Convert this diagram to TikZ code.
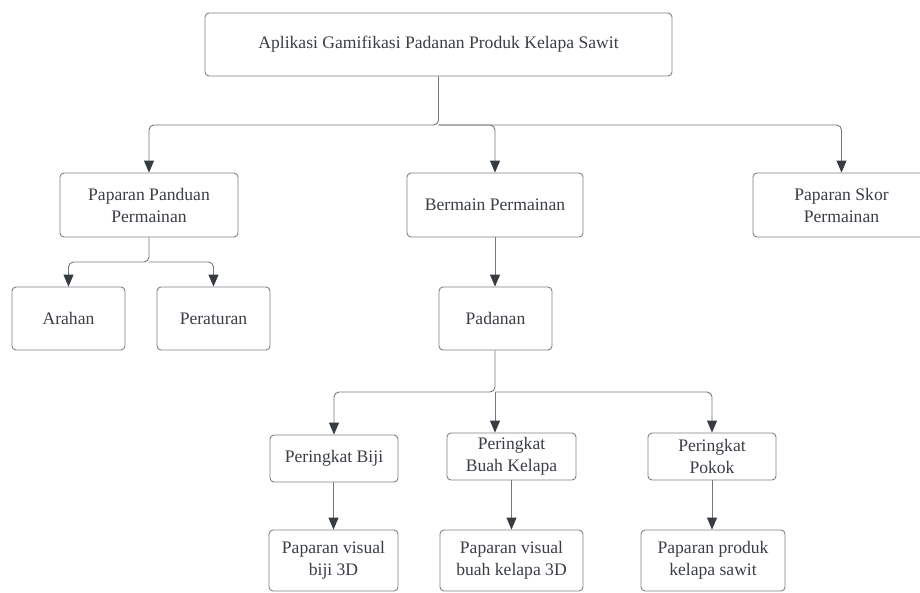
\documentclass[tikz,border=0pt]{standalone}
\usepackage{fontspec}
\setmainfont{Liberation Serif}
\usetikzlibrary{arrows.meta}
\definecolor{boxline}{HTML}{7E8186}
\definecolor{conn}{HTML}{74777C}
\definecolor{tip}{HTML}{373B42}
\definecolor{txt}{HTML}{3A3E45}
\tikzset{
  box/.style={draw=boxline, line width=0.9pt, rounded corners=4pt, inner sep=0pt, align=center,
    text=txt, font=\fontsize{17.6}{22}\selectfont},
  conline/.style={draw=conn, line width=0.9pt, rounded corners=5pt},
  arr/.style={conline, -{Triangle[width=10pt,length=12pt,color=tip]}}
}
\begin{document}
\begin{tikzpicture}[x=1pt,y=-1pt]
\useasboundingbox (0,0) rectangle (920,592);
\clip (0,0) rectangle (920,592);
\fill[white] (0,0) rectangle (920,592);
% boxes
\node[box, minimum width=467pt, minimum height=63pt] (top) at (438.5,44.5) {Aplikasi Gamifikasi Padanan Produk Kelapa Sawit};
\node[box, minimum width=178pt, minimum height=64pt] (panduan) at (149,205) {Paparan Panduan\\Permainan};
\node[box, minimum width=176pt, minimum height=64pt] (bermain) at (495,205) {Bermain Permainan};
\node[box, minimum width=177pt, minimum height=64pt] (skor) at (841.5,205) {Paparan Skor\\Permainan};
\node[box, minimum width=113pt, minimum height=63pt] (arahan) at (68.5,318.5) {Arahan};
\node[box, minimum width=113pt, minimum height=63pt] (peraturan) at (213.5,318.5) {Peraturan};
\node[box, minimum width=113pt, minimum height=63pt] (padanan) at (495.5,318.5) {Padanan};
\node[box, minimum width=128pt, minimum height=47pt] (biji) at (334,458.5) {Peringkat Biji};
\node[box, minimum width=129pt, minimum height=47pt] (buah) at (511.5,456.5) {Peringkat\\Buah Kelapa};
\node[box, minimum width=128pt, minimum height=47pt] (pokok) at (712,456.5) {Peringkat\\Pokok};
\node[box, minimum width=129pt, minimum height=61pt] (vbiji) at (333.5,560.5) {Paparan visual\\biji 3D};
\node[box, minimum width=143pt, minimum height=61pt] (vbuah) at (511.5,560.5) {Paparan visual\\buah kelapa 3D};
\node[box, minimum width=144pt, minimum height=61pt] (vpokok) at (713,560.5) {Paparan produk\\kelapa sawit};
% junction coordinates
\coordinate (j1) at (438.5,125);
\coordinate (j2) at (149,262);
\coordinate (j3) at (495,392);
% connectors
\draw[arr] (top.south) -- (j1) -| (panduan.north);
\draw[arr] (j1) -| (bermain.north);
\draw[arr] (j1) -| (skor.north);
\draw[arr] (panduan.south) -- (j2) -| (arahan.north);
\draw[arr] (j2) -| (peraturan.north);
\draw[arr] (bermain.south) -- (padanan.north -| bermain.south);
\draw[arr] (padanan.south -| j3) -- (j3) -| (biji.north);
\draw[arr] (j3) -- (j3 |- buah.north);
\draw[arr] (j3) -| (pokok.north);
\draw[arr] (biji.south -| vbiji.north) -- (vbiji.north);
\draw[arr] (buah.south) -- (vbuah.north);
\draw[arr] (pokok.south) -- (vpokok.north -| pokok.south);
\end{tikzpicture}
\end{document}
